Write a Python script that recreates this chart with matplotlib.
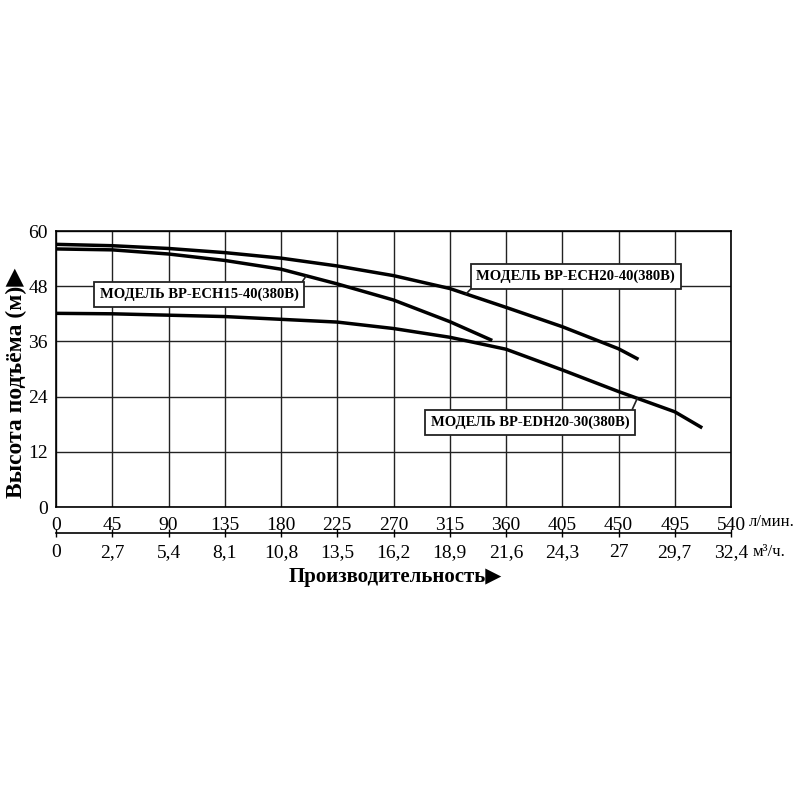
import matplotlib as mpl
import numpy as np
from matplotlib import pyplot as plt

mpl.use('Agg')

FONT = ['Liberation Serif', 'DejaVu Sans']
plt.rcParams['font.family'] = FONT

# расход, л/мин  и  напор, м
q_ech20 = [0, 45, 90, 135, 180, 225, 270, 315, 360, 405, 450, 466]
h_ech20 = [57.1, 56.8, 56.2, 55.3, 54.1, 52.4, 50.3, 47.5, 43.4, 39.2, 34.4, 32.1]

q_ech15 = [0, 45, 90, 135, 180, 225, 270, 315, 349]
h_ech15 = [56.1, 55.9, 55.0, 53.6, 51.7, 48.5, 45.0, 40.3, 36.2]

q_edh20 = [0, 45, 90, 135, 180, 225, 270, 315, 360, 405, 450, 495, 517]
h_edh20 = [42.1, 42.0, 41.7, 41.4, 40.8, 40.2, 38.8, 36.9, 34.3, 29.8, 25.1, 20.7, 17.2]

x_ticks = [0, 45, 90, 135, 180, 225, 270, 315, 360, 405, 450, 495, 540]
m3_ticks = [0, 2.7, 5.4, 8.1, 10.8, 13.5, 16.2, 18.9, 21.6, 24.3, 27, 29.7, 32.4]
y_ticks = [0, 12, 24, 36, 48, 60]

labels = ['МОДЕЛЬ BP-ECH15-40(380В)', 'МОДЕЛЬ BP-ECH20-40(380В)', 'МОДЕЛЬ BP-EDH20-30(380В)']

fig = plt.figure(figsize=(8, 8), dpi=100, facecolor='white')
ax = fig.add_axes([56 / 800, 293 / 800, 675 / 800, 276 / 800])

for q, h in [(q_ech20, h_ech20), (q_ech15, h_ech15), (q_edh20, h_edh20)]:
    ax.plot(q, h, color='black', lw=2.5, solid_capstyle='butt', solid_joinstyle='round')

ax.set_xlim(0, 540)
ax.set_ylim(0, 60)
ax.set_xticks(x_ticks)
ax.set_yticks(y_ticks)
ax.grid(True, color='#222222', lw=1.0)
ax.set_axisbelow(True)
for s in ax.spines.values():
    s.set_linewidth(1.2)
ax.tick_params(axis='both', length=0, labelsize=14)
ax.tick_params(axis='x', pad=7)
ax.tick_params(axis='y', pad=6)

# вторая шкала в м3/ч
sec = ax.secondary_xaxis(-0.094, functions=(lambda x: x * 0.06, lambda x: x / 0.06))
sec.set_xticks(m3_ticks)
sec.set_xticklabels([('%g' % v).replace('.', ',') for v in m3_ticks])
sec.tick_params(axis='x', direction='inout', length=6, width=1.0, labelsize=14, pad=5)
sec.spines['bottom'].set_linewidth(1.2)

box = dict(boxstyle='square,pad=0.4', fc='white', ec='#222222', lw=1.3)
arrow = dict(arrowstyle='-', color='#222222', lw=1.2, shrinkA=0, shrinkB=0)

ax.annotate(labels[0], xy=(200, 50.2), xytext=(114.4, 46.2), ha='center', va='center',
            fontsize=10.5, fontweight='bold', bbox=box, arrowprops=dict(arrow, relpos=(1, 1)))
ax.annotate(labels[1], xy=(328, 46.3), xytext=(415.9, 50.2), ha='center', va='center',
            fontsize=10.5, fontweight='bold', bbox=box, arrowprops=dict(arrow, relpos=(0, 0)))
ax.annotate(labels[2], xy=(465, 23.6), xytext=(379.3, 18.4), ha='center', va='center',
            fontsize=10.5, fontweight='bold', bbox=box, arrowprops=dict(arrow, relpos=(1, 1)))

fig.text(749 / 800, 1 - 522 / 800, 'л/мин.', fontsize=12, ha='left', va='center')
fig.text(753 / 800, 1 - 552 / 800, 'м³/ч.', fontsize=12, ha='left', va='center')

fig.text(16 / 800, 1 - 383 / 800, 'Высота подъёма (м)▶', rotation=90, fontsize=17,
         fontweight='bold', ha='center', va='center')
fig.text(395 / 800, 1 - 577 / 800, 'Производительность▶', fontsize=15,
         fontweight='bold', ha='center', va='center')

fig.savefig('out.png', dpi=100, facecolor='white')
